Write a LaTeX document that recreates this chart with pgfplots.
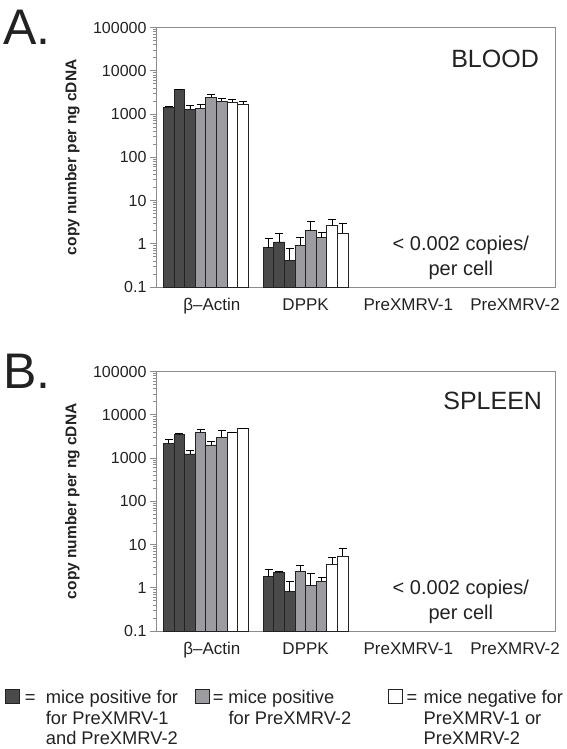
\documentclass[border=0pt]{standalone}
\usepackage{fontspec}
\setmainfont{Liberation Sans}
\usepackage{pgfplots}
\pgfplotsset{compat=1.18}
\definecolor{dk}{HTML}{4A4A4A}
\definecolor{md}{HTML}{9C9CA0}
\definecolor{ax}{HTML}{8C8C8C}
\definecolor{ed}{HTML}{222222}
\definecolor{txt}{HTML}{222222}
\pgfplotsset{
  eb/.style={error bars/.cd, y dir=plus, y explicit,
    error bar style={line width=0.9pt, black},
    error mark options={rotate=90, mark size=4pt, line width=0.9pt, black}},
}
\begin{document}
\begin{tikzpicture}
\path[use as bounding box] (0pt,0pt) rectangle (566pt,-749pt);
\node[anchor=base west, font=\fontsize{50}{50}\selectfont, text=txt, inner sep=0pt] at (3pt,-45pt) {A.};
\node[anchor=base west, font=\fontsize{50}{50}\selectfont, text=txt, inner sep=0pt] at (3pt,-388pt) {B.};
% ---------------- Panel A: BLOOD ----------------
\begin{axis}[
    at={(156pt,-27.5pt)}, anchor=north west,
    scale only axis, width=399pt, height=259.5pt,
    ymode=log, ymin=0.1, ymax=100000, log origin=infty,
    xmin=-0.5, xmax=3.5,
    xtick={0,1,2,3},
    xticklabels={\hspace*{12pt}β–Actin,DPPK,\hspace*{6pt}PreXMRV-1,\hspace*{20pt}PreXMRV-2},
    ytick={0.1,1,10,100,1000,10000,100000},
    yticklabels={0.1,1,10,100,1000,10000,100000},
    ytick pos=left, xtick pos=bottom,
    tick align=outside, major tick length=6pt,
    ytick style={draw=ax, line width=0.8pt},
    xtick style={draw=none},
    axis line style={draw=ax, line width=1pt},
    yticklabel style={font=\fontsize{16}{16}\selectfont, text=txt},
    xticklabel style={font=\fontsize{17}{17}\selectfont, text=txt, yshift=-2pt},
    ylabel={copy number per ng cDNA},
    ylabel style={font=\bfseries\fontsize{15.5}{16}\selectfont, text=txt,
      at={(axis description cs:-0.2093,0.5)}, anchor=center},
    ybar, bar width=10.6pt,
    clip=false,
]
\addplot[draw=ed, line width=0.9pt, fill=dk, bar shift=-37.1pt, eb] coordinates {(0,1450) +- (0,60) (1,0.80) +- (0,0.52)};
\addplot[draw=ed, line width=0.9pt, fill=dk, bar shift=-26.5pt, eb] coordinates {(0,3640) +- (0,100) (1,1.10) +- (0,0.62)};
\addplot[draw=ed, line width=0.9pt, fill=dk, bar shift=-15.9pt, eb] coordinates {(0,1300) +- (0,280) (1,0.42) +- (0,0.35)};
\addplot[draw=ed, line width=0.9pt, fill=md, bar shift=-5.3pt, eb] coordinates {(0,1350) +- (0,280) (1,0.92) +- (0,0.47)};
\addplot[draw=ed, line width=0.9pt, fill=md, bar shift=5.3pt, eb] coordinates {(0,2420) +- (0,380) (1,2.02) +- (0,1.18)};
\addplot[draw=ed, line width=0.9pt, fill=md, bar shift=15.9pt, eb] coordinates {(0,1955) +- (0,305) (1,1.39) +- (0,0.47)};
\addplot[draw=ed, line width=0.9pt, fill=white, bar shift=26.5pt, eb] coordinates {(0,1895) +- (0,245) (1,2.59) +- (0,1.01)};
\addplot[draw=ed, line width=0.9pt, fill=white, bar shift=37.1pt, eb] coordinates {(0,1700) +- (0,290) (1,1.75) +- (0,1.20)};
\node[anchor=base east, font=\fontsize{25}{25}\selectfont, text=txt, inner sep=0pt] at (rel axis cs:0.96,0.847) {BLOOD};
\node[anchor=base, font=\fontsize{20}{20}\selectfont, text=txt, inner sep=0pt] at (rel axis cs:0.764,0.139) {< 0.002 copies/};
\node[anchor=base, font=\fontsize{20}{20}\selectfont, text=txt, inner sep=0pt] at (rel axis cs:0.764,0.046) {per cell};
\end{axis}
% ---------------- Panel B: SPLEEN ----------------
\begin{axis}[
    at={(156pt,-371.5pt)}, anchor=north west,
    scale only axis, width=399pt, height=259.5pt,
    ymode=log, ymin=0.1, ymax=100000, log origin=infty,
    xmin=-0.5, xmax=3.5,
    xtick={0,1,2,3},
    xticklabels={\hspace*{12pt}β–Actin,DPPK,\hspace*{6pt}PreXMRV-1,\hspace*{20pt}PreXMRV-2},
    ytick={0.1,1,10,100,1000,10000,100000},
    yticklabels={0.1,1,10,100,1000,10000,100000},
    ytick pos=left, xtick pos=bottom,
    tick align=outside, major tick length=6pt,
    ytick style={draw=ax, line width=0.8pt},
    xtick style={draw=none},
    axis line style={draw=ax, line width=1pt},
    yticklabel style={font=\fontsize{16}{16}\selectfont, text=txt},
    xticklabel style={font=\fontsize{17}{17}\selectfont, text=txt, yshift=-2pt},
    ylabel={copy number per ng cDNA},
    ylabel style={font=\bfseries\fontsize{15.5}{16}\selectfont, text=txt,
      at={(axis description cs:-0.2093,0.5)}, anchor=center},
    ybar, bar width=10.6pt,
    clip=false,
    legend columns=3,
    legend style={at={(axis description cs:-0.3784,-0.2222)}, anchor=north west,
      draw=none, fill=none, inner sep=0pt, outer sep=0pt,
      column sep=0pt, row sep=0pt,
      font=\fontsize{18.3}{20.5}\selectfont,
      nodes={inner sep=0pt, text=txt}},
    legend image code/.code={\draw[#1, line width=0.9pt] (0.45pt,-6pt) rectangle (14.45pt,8pt);},
]
\addplot[draw=ed, line width=0.9pt, fill=dk, bar shift=-37.1pt, eb] coordinates {(0,2170) +- (0,480) (1,1.79) +- (0,0.85)};
\addlegendentry{\makebox[175pt][l]{\hspace{5pt}=\hspace{10.3pt}\begin{tabular}[t]{@{}l@{}}mice positive for\\for PreXMRV-1\\and PreXMRV-2\end{tabular}}}
\addplot[draw=ed, line width=0.9pt, fill=dk, bar shift=-26.5pt, forget plot, eb] coordinates {(0,3580) +- (0,50) (1,2.30) +- (0,0.05)};
\addplot[draw=ed, line width=0.9pt, fill=dk, bar shift=-15.9pt, forget plot, eb] coordinates {(0,1240) +- (0,230) (1,0.81) +- (0,0.56)};
\addplot[draw=ed, line width=0.9pt, fill=md, bar shift=-5.3pt, eb] coordinates {(0,3900) +- (0,680) (1,2.43) +- (0,0.79)};
\addlegendentry{\makebox[178pt][l]{\hspace{3pt}=\hspace{5pt}\begin{tabular}[t]{@{}l@{}}mice positive\\for PreXMRV-2\end{tabular}}}
\addplot[draw=ed, line width=0.9pt, fill=md, bar shift=5.3pt, forget plot, eb] coordinates {(0,2000) +- (0,380) (1,1.11) +- (0,1.03)};
\addplot[draw=ed, line width=0.9pt, fill=md, bar shift=15.9pt, forget plot, eb] coordinates {(0,2990) +- (0,1280) (1,1.43) +- (0,0.27)};
\addplot[draw=ed, line width=0.9pt, fill=white, bar shift=26.5pt, eb] coordinates {(0,3840) +- (0,60) (1,3.45) +- (0,1.48)};
\addlegendentry{\hspace{4pt}=\hspace{6.3pt}\begin{tabular}[t]{@{}l@{}}mice negative for\\PreXMRV-1 or\\PreXMRV-2\end{tabular}}
\addplot[draw=ed, line width=0.9pt, fill=white, bar shift=37.1pt, forget plot, eb] coordinates {(0,4750) +- (0,100) (1,5.39) +- (0,2.71)};
\node[anchor=base east, font=\fontsize{25}{25}\selectfont, text=txt, inner sep=0pt] at (rel axis cs:0.968,0.852) {SPLEEN};
\node[anchor=base, font=\fontsize{20}{20}\selectfont, text=txt, inner sep=0pt] at (rel axis cs:0.764,0.139) {< 0.002 copies/};
\node[anchor=base, font=\fontsize{20}{20}\selectfont, text=txt, inner sep=0pt] at (rel axis cs:0.764,0.046) {per cell};
\end{axis}
\end{tikzpicture}
\end{document}
